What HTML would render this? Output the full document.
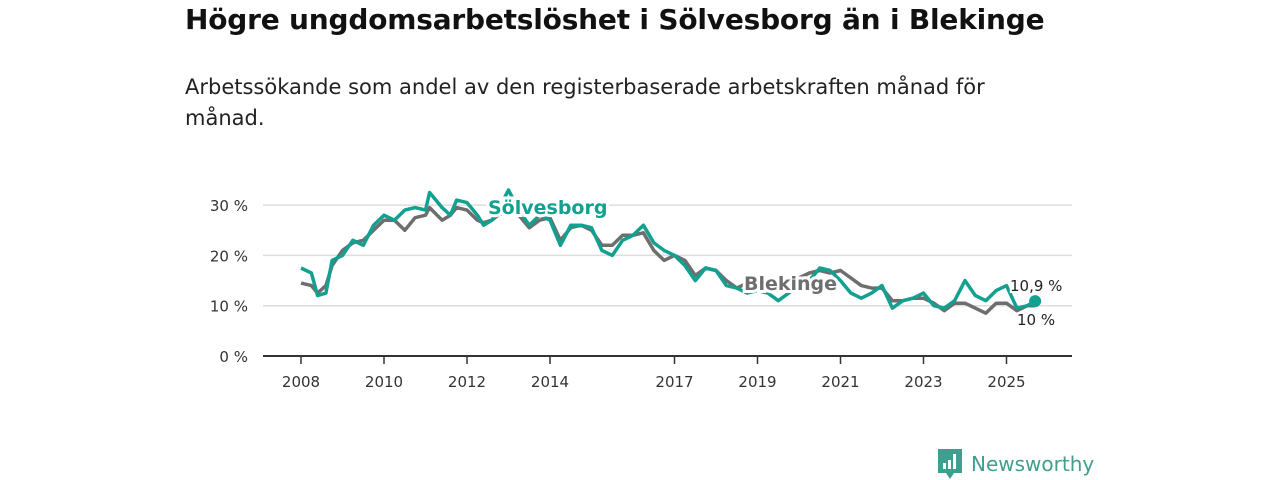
<!DOCTYPE html>
<html><head><meta charset="utf-8"><style>
body{margin:0;width:1280px;height:480px;background:#fff;font-family:"DejaVu Sans",sans-serif;overflow:hidden;position:relative}
h1{position:absolute;left:185px;top:3px;margin:0;font-size:28px;font-weight:bold;color:#111;white-space:nowrap;letter-spacing:-0.2px}
p.sub{position:absolute;left:185px;top:72px;margin:0;font-size:21px;line-height:31px;color:#222;width:835px}
</style></head><body>
<h1>Högre ungdomsarbetslöshet i Sölvesborg än i Blekinge</h1>
<p class="sub">Arbetssökande som andel av den registerbaserade arbetskraften månad för månad.</p>
<svg id="chart" width="1280" height="480" style="position:absolute;left:0;top:0"></svg>
<div style="position:absolute;left:938px;top:449px;display:flex;align-items:center;color:#3f9e8f;font-size:20px">
<svg width="24" height="30" viewBox="0 0 24 30"><path d="M0 0H24V24H16L12 30L8 24H0Z" fill="#3f9e8f"/><rect x="5" y="14" width="3" height="6" fill="#fff"/><rect x="10" y="11" width="3" height="9" fill="#fff"/><rect x="15" y="5" width="3" height="15" fill="#fff"/></svg>
<span style="margin-left:9px">Newsworthy</span></div>
<script>
const dates=[2008,2008.25,2008.4,2008.6,2008.75,2009,2009.25,2009.5,2009.75,2010,2010.25,2010.5,2010.75,2011,2011.1,2011.4,2011.6,2011.75,2012,2012.25,2012.4,2012.6,2012.75,2013,2013.25,2013.5,2013.75,2014,2014.25,2014.5,2014.75,2015,2015.25,2015.5,2015.75,2016,2016.25,2016.5,2016.75,2017,2017.25,2017.5,2017.75,2018,2018.25,2018.5,2018.75,2019,2019.25,2019.5,2019.75,2020,2020.25,2020.5,2020.75,2021,2021.25,2021.5,2021.75,2022,2022.25,2022.5,2022.75,2023,2023.25,2023.5,2023.75,2024,2024.25,2024.5,2024.75,2025,2025.25,2025.5,2025.69];
const solvesborg=[17.5,16.5,12,12.5,19,20,23,22,26,28,27,29,29.5,29,32.5,29.5,28,31,30.5,28,26,27,29,33,29,26,28,27,22,26,26,25.5,21,20,23,24,26,22.5,21,20,18,15,17.5,17,14,13.5,12.5,13,12.5,11,12.5,14,15,17.5,17,15,12.5,11.5,12.5,14,9.5,11,11.5,12.5,10,9.5,11,15,12,11,13,14,9.5,10,10.9];
const blekinge=[14.5,14,12.5,14,18,21,22.5,23,25,27,27,25,27.5,28,29.5,27,28,29.5,29,27,26.5,27,28,29,28,25.5,27,27.5,23,25.5,26,25,22,22,24,24,24.5,21,19,20,19,16,17.5,17,15,13.5,14.5,15,15,14.5,15,15.5,16.5,17,16.5,17,15.5,14,13.5,13.5,11,11,11.5,11.5,10.5,9,10.5,10.5,9.5,8.5,10.5,10.5,9,10,10];
const yTicks=[0,10,20,30];
const xTicks=[2008,2010,2012,2014,2017,2019,2021,2023,2025];
const NS="http://www.w3.org/2000/svg";
const svg=document.getElementById('chart');
const X=v=>301+(v-2008)*41.5;
const Y=v=>356-v*5.03;
const FF='DejaVu Sans, sans-serif';
function mk(t,a,p){const e=document.createElementNS(NS,t);for(const k in a)e.setAttribute(k,a[k]);(p||svg).appendChild(e);return e;}
yTicks.forEach(t=>{
 if(t>0){const g=mk('line',{x1:263,x2:1072,y1:Y(t),y2:Y(t),stroke:'#ddd','stroke-width':1.5});
 
 }
 const l=mk('text',{x:248,y:Y(t)+6,'text-anchor':'end','font-size':15,fill:'#333','font-family':FF});
 l.textContent=t+' %';
 
 
});
const ax=mk('line',{x1:263,x2:1072,y1:Y(0),y2:Y(0),stroke:'#333','stroke-width':2});


xTicks.forEach(t=>{
 mk('line',{x1:X(t),x2:X(t),y1:356,y2:364,stroke:'#333','stroke-width':1.5});
 const l=mk('text',{x:X(t),y:387,'text-anchor':'middle','font-size':15,fill:'#333','font-family':FF});
 l.textContent=t;
 
 
});
function line(vals,col,name){
 const d=vals.map((v,i)=>(i?'L':'M')+X(dates[i]).toFixed(1)+' '+Y(v).toFixed(1)).join('');
 const p=mk('path',{d:d,fill:'none',stroke:col,'stroke-width':3.5,'stroke-linejoin':'round'});
 
 
}
line(blekinge,'#6e6e6e','blekinge-line');
line(solvesborg,'#12a090','solvesborg-line');
const n=dates.length-1;
const dot=mk('circle',{cx:X(dates[n]),cy:Y(solvesborg[n]),r:6,fill:'#12a090'});


function lab(x,y,txt,col,size,bold,name){
 const t=mk('text',{x:x,y:y,'font-size':size,'font-weight':bold?'bold':'normal',fill:col,stroke:'#fff','stroke-width':bold?6:4,'paint-order':'stroke','font-family':FF});
 t.textContent=txt;
 
 
}
lab(488,214,'Sölvesborg','#12a090',19,true,'solvesborg-label');
lab(744,290,'Blekinge','#6e6e6e',19,true,'blekinge-label');
lab(1010,291,'10,9 %','#222',15,false,'solvesborg-value-label');
lab(1017,325,'10 %','#222',15,false,'blekinge-value-label');
</script>
</body></html>
